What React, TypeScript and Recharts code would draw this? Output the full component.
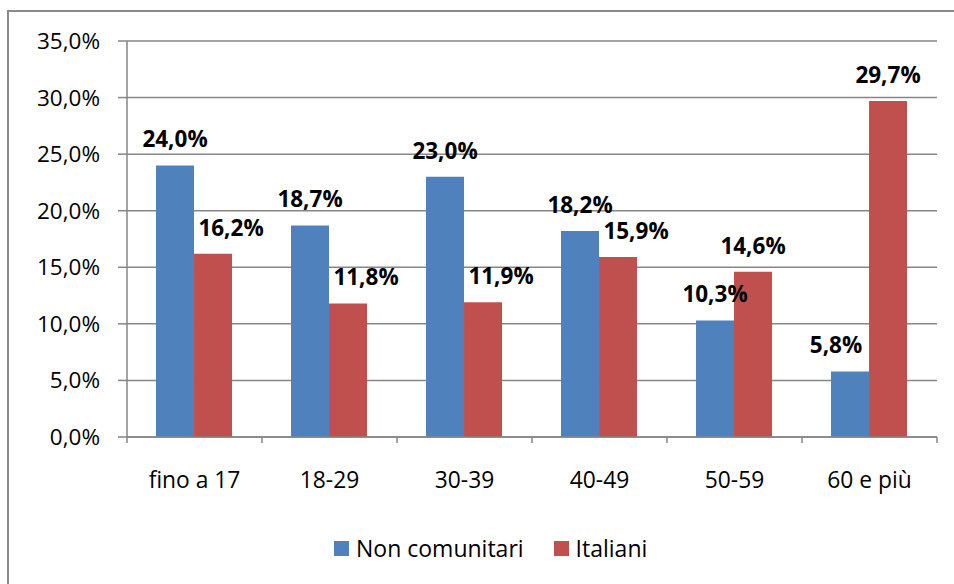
import React from 'react';
import { BarChart, Bar, XAxis, YAxis, CartesianGrid, Legend } from 'recharts';

const categories = ['fino a 17', '18-29', '30-39', '40-49', '50-59', '60 e più'];
const nonComunitari = [24.0, 18.7, 23.0, 18.2, 10.3, 5.8];
const italiani = [16.2, 11.8, 11.9, 15.9, 14.6, 29.7];
const yTicks = [0, 5, 10, 15, 20, 25, 30, 35];
const seriesNames = ['Non comunitari', 'Italiani'];

const BLUE = '#4F81BD';
const RED = '#C0504D';
const GRID = '#868686';
const FONT = '"Open Sans", "Noto Sans", sans-serif';

const data = categories.map((c, i) => ({ cat: c, nc: nonComunitari[i], it: italiani[i] }));

const fmt = (v: number) => `${v.toFixed(1).replace('.', ',')}%`;

const XTick = (props: any) => {
  const { x, y, payload, index, visibleTicksCount } = props;
  const off = payload.offset || 0;
  const last = index === visibleTicksCount - 1;
  return (
    <g>
      <line x1={x - off} x2={x - off} y1={y} y2={y + 6} stroke={GRID} strokeWidth={1.5} />
      {last && <line x1={x + off} x2={x + off} y1={y} y2={y + 6} stroke={GRID} strokeWidth={1.5} />}
      <text x={x} y={y + 51} textAnchor="middle" fontSize={22.8} fill="#000" fontFamily={FONT}>
        {payload.value}
      </text>
    </g>
  );
};

const makeLabel = (series: 'nc' | 'it') => (props: any) => {
  const { x, y, width, value, index } = props;
  let dx = 0;
  if (series === 'it' && nonComunitari[index] > italiani[index]) dx = 18;
  if (series === 'nc' && italiani[index] > 2 * nonComunitari[index]) dx = -14;
  return (
    <text
      x={x + width / 2 + dx}
      y={y - 18}
      textAnchor="middle"
      fontSize={22.5}
      fontWeight="bold"
      fill="#000"
      fontFamily={FONT}
    >
      {fmt(value)}
    </text>
  );
};

const LegendContent = () => (
  <div style={{ display: 'flex', alignItems: 'center', fontFamily: FONT, fontSize: 23, color: '#000', whiteSpace: 'nowrap' }}>
    {seriesNames.map((n, i) => (
      <div key={n} style={{ display: 'flex', alignItems: 'center', marginRight: i === 0 ? 30 : 0 }}>
        <span style={{ display: 'inline-block', width: 15, height: 15, background: i === 0 ? BLUE : RED, marginRight: 7 }} />
        <span>{n}</span>
      </div>
    ))}
  </div>
);

export default function App() {
  return (
    <div style={{ position: 'absolute', left: 0, top: 0, width: 954, height: 584, overflow: 'hidden', background: '#fff' }}>
      <div
        style={{
          position: 'absolute',
          left: 7,
          top: 10,
          width: 980,
          height: 620,
          border: '2px solid #8a8a8a',
          boxSizing: 'border-box',
        }}
      />
      <div style={{ position: 'absolute', left: 0, top: 0 }}>
        <BarChart
          width={954}
          height={584}
          data={data}
          margin={{ top: 41, right: 17, bottom: 0, left: 0 }}
          barCategoryGap="21.5%"
          barGap={0}
        >
          <CartesianGrid vertical={false} stroke={GRID} strokeWidth={1.5} />
          <XAxis
            dataKey="cat"
            height={147}
            tickSize={0}
            tickMargin={0}
            tickLine={false}
            axisLine={{ stroke: GRID, strokeWidth: 1.5 }}
            tick={<XTick />}
            interval={0}
          />
          <YAxis
            width={127}
            domain={[0, 35]}
            ticks={yTicks}
            interval={0}
            tickFormatter={fmt}
            tickSize={9}
            tickMargin={18}
            axisLine={{ stroke: GRID, strokeWidth: 1.5 }}
            tickLine={{ stroke: GRID, strokeWidth: 1.5 }}
            tick={{ fontSize: 22.5, fill: '#000', fontFamily: FONT }}
          />
          <Legend
            verticalAlign="middle"
            layout="horizontal"
            content={<LegendContent />}
            wrapperStyle={{ top: 532, left: 334, width: 'auto' }}
          />
          <Bar dataKey="nc" name={seriesNames[0]} fill={BLUE} isAnimationActive={false} label={makeLabel('nc')} />
          <Bar dataKey="it" name={seriesNames[1]} fill={RED} isAnimationActive={false} label={makeLabel('it')} />
        </BarChart>
      </div>
    </div>
  );
}
